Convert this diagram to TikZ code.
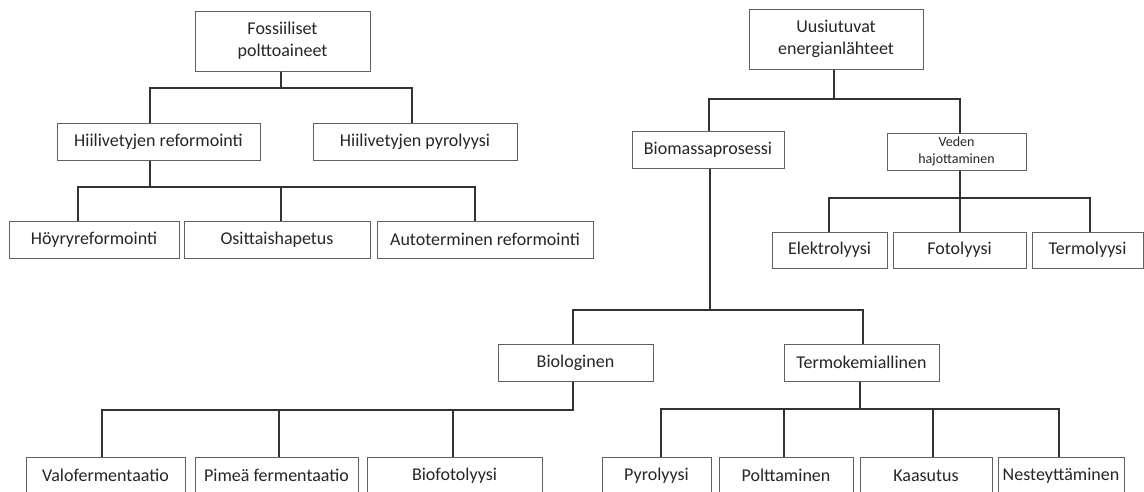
\documentclass[tikz,border=0pt]{standalone}
\usepackage{fontspec}
\setmainfont{Carlito}
\begin{document}
\begin{tikzpicture}[x=1pt,y=-1pt,
  box/.style={draw=black!62, line width=1pt, fill=white, rectangle, inner sep=0pt,
    text=black!85, font=\fontsize{18}{22}\selectfont, align=center, minimum height=37pt},
  smallbox/.style={box, font=\fontsize{14}{17}\selectfont},
  conn/.style={draw=black!80, line width=1.2pt}]
\useasboundingbox (0,0) rectangle (1144,491);
\clip (0,0) rectangle (1144,491);
\fill[white] (0,0) rectangle (1144,491);

% left tree
\node[box, minimum width=175pt, minimum height=60pt] (fos) at (282.5,41) {Fossiiliset\\polttoaineet};
\node[box, minimum width=203pt] (hr) at (158.5,141.5) {Hiilivetyjen reformointi};
\node[box, minimum width=204pt] (hp) at (415,141.5) {Hiilivetyjen pyrolyysi};
\node[box, minimum width=170pt] (hoy) at (94,239.5) {Höyryreformointi};
\node[box, minimum width=186pt] (osi) at (277,239.5) {Osittaishapetus};
\node[box, minimum width=216pt] (aut) at (485,239.5) {Autoterminen reformointi};

% right tree
\node[box, minimum width=174pt, minimum height=60pt] (uus) at (836,39) {Uusiutuvat\\energianlähteet};
\node[box, minimum width=152pt] (bio) at (708,149.5) {Biomassaprosessi};
\node[smallbox, minimum width=139pt] (ved) at (956.5,151.5) {Veden\\hajottaminen};
\node[box, minimum width=115pt, minimum height=36pt] (ele) at (829.5,250) {Elektrolyysi};
\node[box, minimum width=133pt, minimum height=36pt] (fot) at (959.5,250) {Fotolyysi};
\node[box, minimum width=111pt, minimum height=36pt] (ter) at (1087.5,250) {Termolyysi};
\node[box, minimum width=155pt] (biol) at (575.5,362.5) {Biologinen};
\node[box, minimum width=155pt] (tkm) at (861.5,362.5) {Termokemiallinen};
\node[box, minimum width=159pt] (valo) at (105.5,475.5) {Valofermentaatio};
\node[box, minimum width=163pt] (pim) at (276.5,475.5) {Pimeä fermentaatio};
\node[box, minimum width=175pt] (bfo) at (454.5,475.5) {Biofotolyysi};
\node[box, minimum width=109pt] (pyr) at (656.5,475.5) {Pyrolyysi};
\node[box, minimum width=134pt] (pol) at (786,475.5) {Polttaminen};
\node[box, minimum width=132pt] (kaa) at (926,475.5) {Kaasutus};
\node[box, minimum width=126pt] (nes) at (1061,475.5) {Nesteyttäminen};

% junction coordinates
\coordinate (f0) at (281,88);  \coordinate (f1) at (150,88);  \coordinate (f2) at (412,88);
\coordinate (r0) at (150,187); \coordinate (r1) at (78,187);  \coordinate (r2) at (281,187); \coordinate (r3) at (475,187);
\coordinate (u0) at (834,99);  \coordinate (u1) at (709,99);  \coordinate (u2) at (960,99);
\coordinate (v0) at (960,198); \coordinate (v1) at (829,198); \coordinate (v2) at (1090,198);
\coordinate (b0) at (710,310); \coordinate (b1) at (573,310); \coordinate (b2) at (863,310);
\coordinate (g0) at (573,410); \coordinate (g1) at (102,410); \coordinate (g2) at (279,410); \coordinate (g3) at (453,410);
\coordinate (t0) at (860,409); \coordinate (t1) at (661,409); \coordinate (t2) at (784,409); \coordinate (t3) at (933,409); \coordinate (t4) at (1059,409);

% connectors
\draw[conn] (f0 |- fos.south) -- (f0);
\draw[conn] (f1 |- hr.north) -- (f1) -- (f2) -- (f2 |- hp.north);
\draw[conn] (r0 |- hr.south) -- (r0);
\draw[conn] (r1 |- hoy.north) -- (r1) -- (r3) -- (r3 |- aut.north);
\draw[conn] (r2) -- (r2 |- osi.north);

\draw[conn] (u0 |- uus.south) -- (u0);
\draw[conn] (u1 |- bio.north) -- (u1) -- (u2) -- (u2 |- ved.north);
\draw[conn] (v0 |- ved.south) -- (v0) -- (v0 |- fot.north);
\draw[conn] (v1 |- ele.north) -- (v1) -- (v2) -- (v2 |- ter.north);

\draw[conn] (b0 |- bio.south) -- (b0);
\draw[conn] (b1 |- biol.north) -- (b1) -- (b2) -- (b2 |- tkm.north);
\draw[conn] (g0 |- biol.south) -- (g0) -- (g1) -- (g1 |- valo.north);
\draw[conn] (g2) -- (g2 |- pim.north);
\draw[conn] (g3) -- (g3 |- bfo.north);
\draw[conn] (t0 |- tkm.south) -- (t0);
\draw[conn] (t1 |- pyr.north) -- (t1) -- (t4) -- (t4 |- nes.north);
\draw[conn] (t2) -- (t2 |- pol.north);
\draw[conn] (t3) -- (t3 |- kaa.north);
\end{tikzpicture}
\end{document}
